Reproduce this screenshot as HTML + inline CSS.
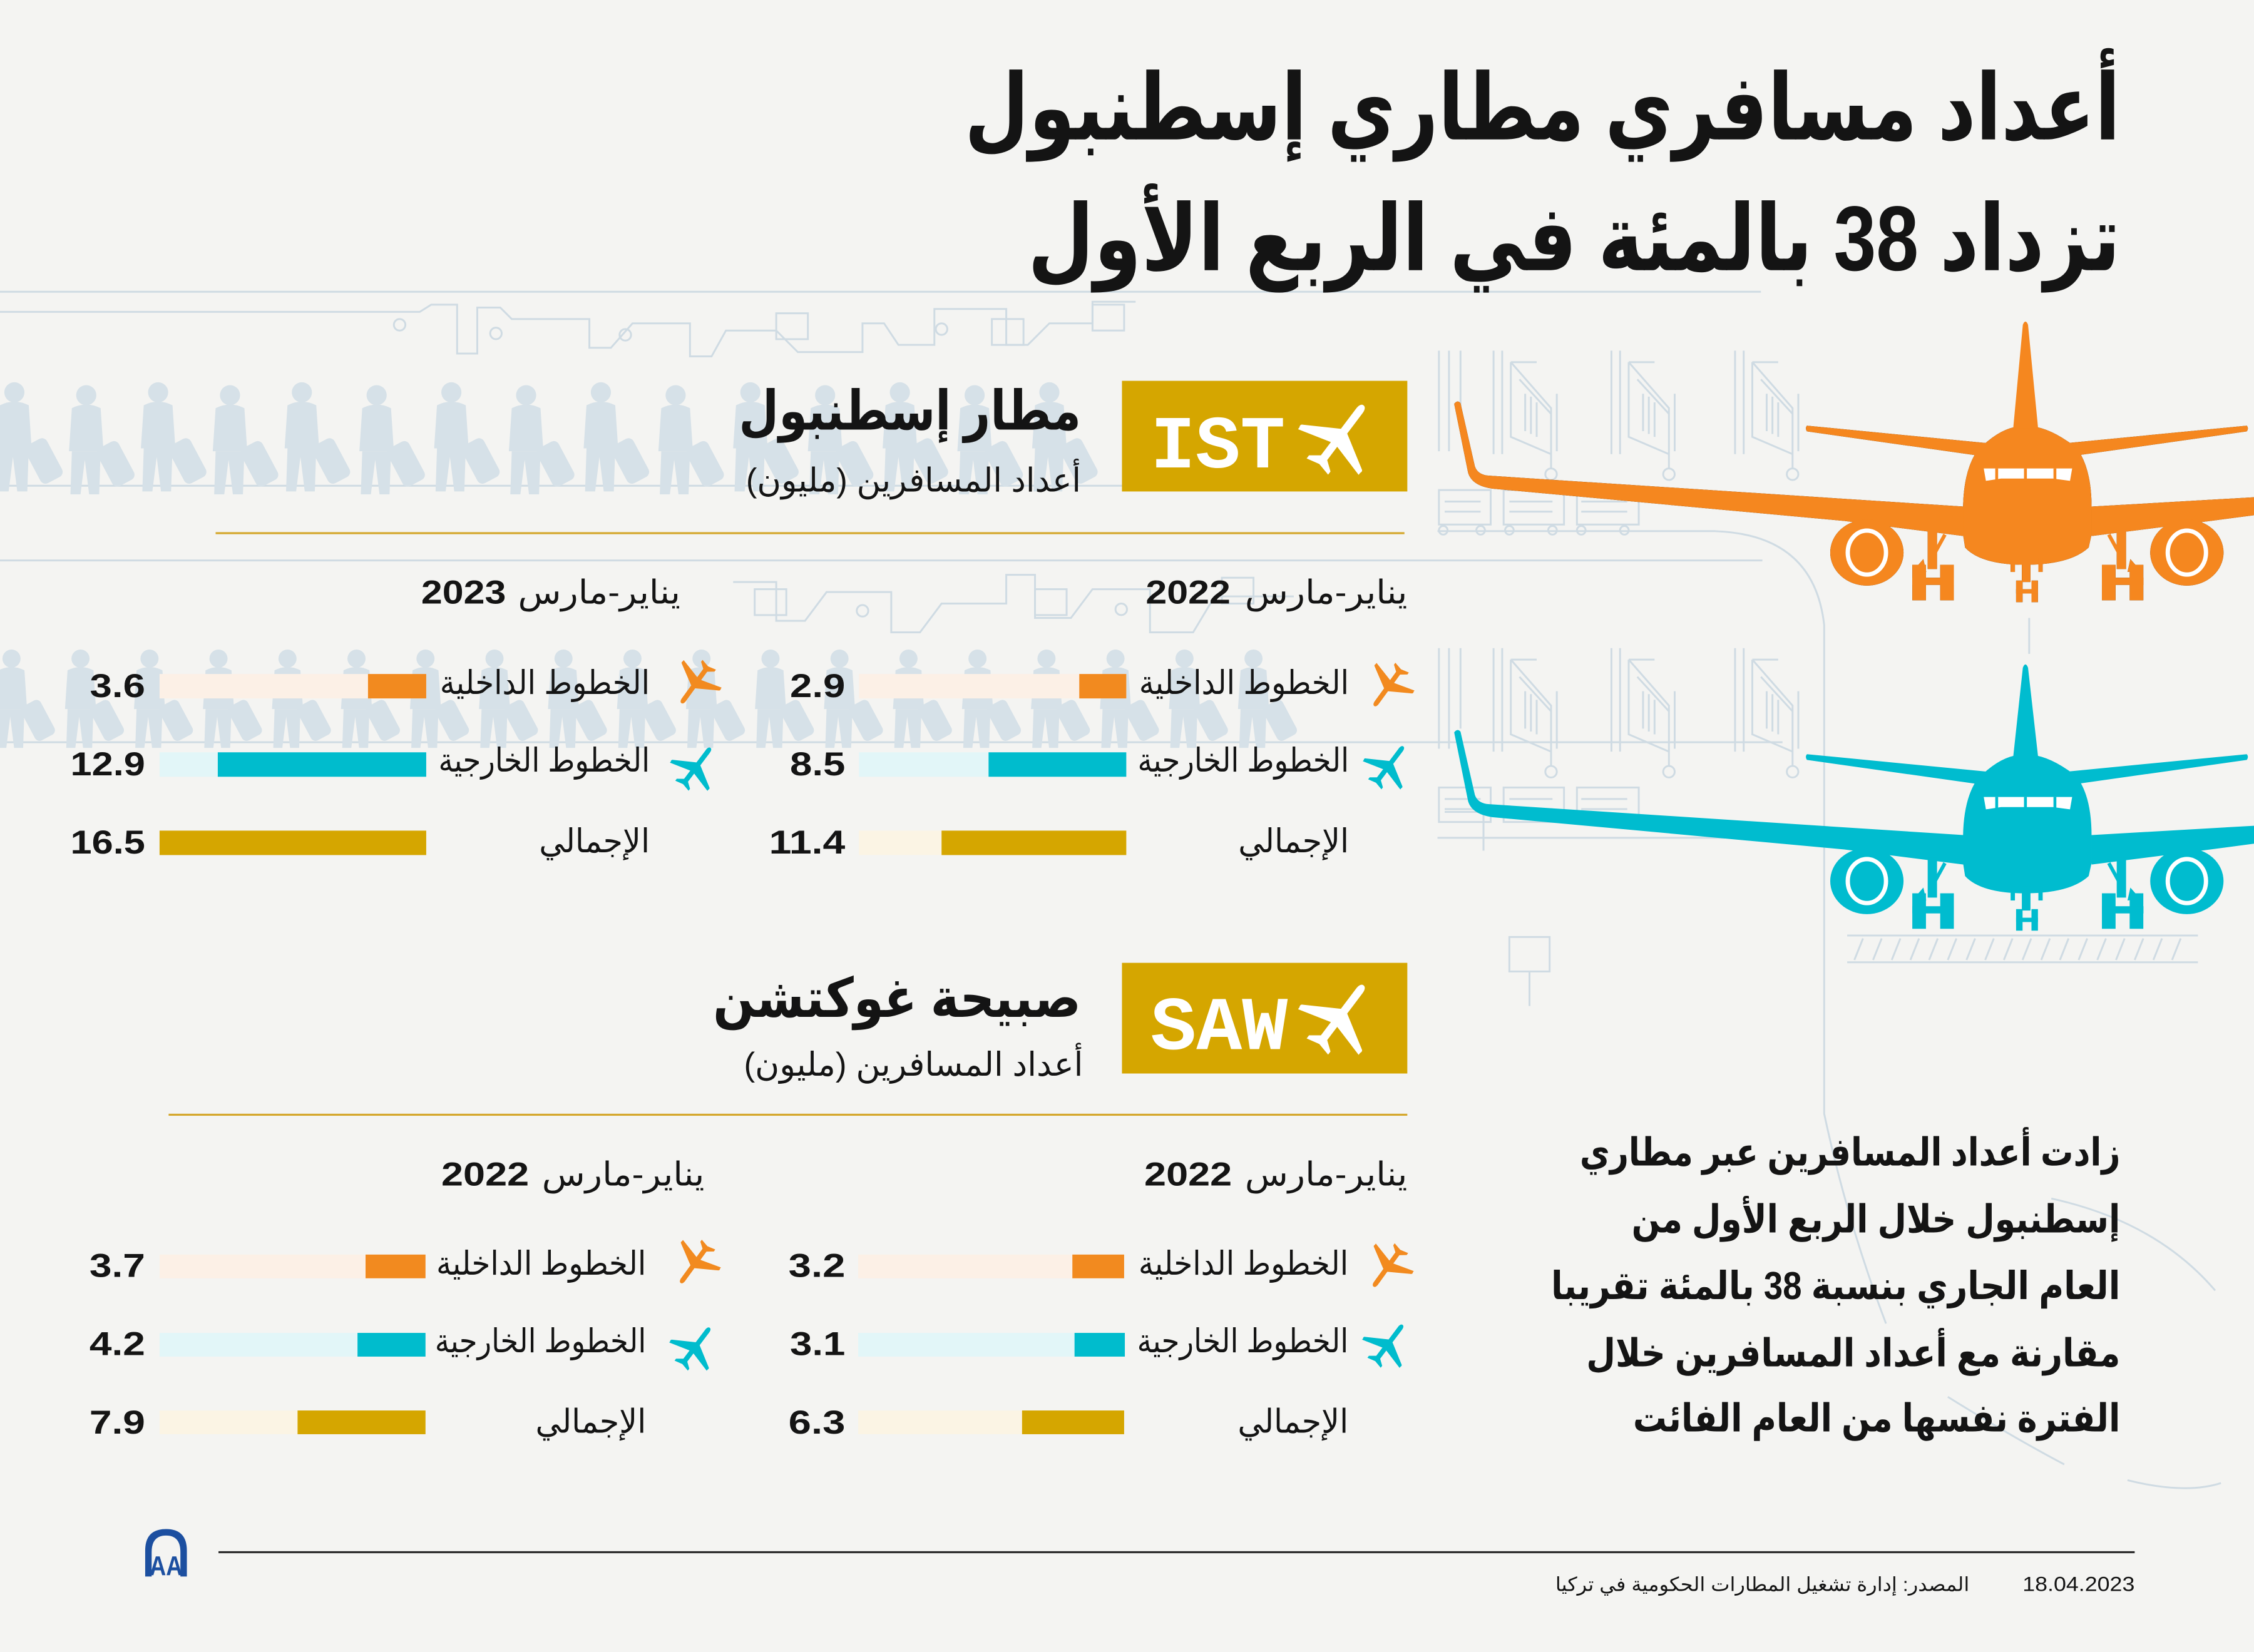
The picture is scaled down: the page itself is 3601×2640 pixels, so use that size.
<!DOCTYPE html>
<html><head><meta charset="utf-8">
<style>
html,body{margin:0;padding:0;background:#f4f4f2;}
svg{display:block;}
text{font-family:"Liberation Sans","DejaVu Sans",sans-serif;fill:#141414;}
.b{font-weight:700;}
.bg{fill:none;stroke:#cfdbe3;stroke-width:1.3;}
</style></head>
<body>
<svg xmlns="http://www.w3.org/2000/svg" width="3601" height="2640" viewBox="0 0 1568 1149.55" preserveAspectRatio="none">
<rect x="0" y="0" width="1568" height="1149.55" fill="#f4f4f2"/>
<defs>
 <g id="p">
  <circle cx="0" cy="7" r="7"/>
  <path d="M-10,16 Q0,11 10,16 L12,46 L-12,46 Z"/>
  <path d="M-10,46 L-11,76 L-4,76 L-1,52 L2,76 L9,76 L10,46 Z"/>
  <rect x="12" y="40" width="17" height="30" rx="4" transform="rotate(-28 20 55)"/>
 </g>
 <g id="jb">
  <path d="M0,0 V72 M6,0 V72 M12,8 H30 M12,8 V60 L40,72 V40 L12,8 M18,20 L40,44 M22,30 V56 M26,32 V58 M30,36 V60 M44,30 V70 M40,72 V82"/>
  <circle cx="40" cy="86" r="4"/>
 </g>
 <path id="pl" d="M0,-50 C3.5,-50 5,-46 5,-41 L5,-9 L47,16 C49,17 49,19 48,21 L48,24 L5,12 L5,33 L17,42 L17,47 L0,43 L-17,47 L-17,42 L-5,33 L-5,12 L-48,24 L-48,21 C-49,19 -49,17 -47,16 L-5,-9 L-5,-41 C-5,-46 -3.5,-50 0,-50 Z"/>
</defs>

<!-- background line art -->
<g class="bg">
 <path d="M0,203 H1225"/>
 <path d="M0,217 H292 L300,212 H318 V246 H332 V214 H348 L356,222 H410 V242 H425 L440,225 H480 V248 H495 L505,230 H540 L555,245 H600 V225 H615 L625,240 H650 V215 H700 V240 H715 L730,225 H760 V210 H790"/>
 <circle cx="278" cy="226" r="4"/><circle cx="345" cy="232" r="4"/><circle cx="435" cy="233" r="4"/><circle cx="655" cy="229" r="4"/>
 <rect x="540" y="218" width="22" height="18"/><rect x="690" y="222" width="22" height="18"/><rect x="760" y="212" width="22" height="18"/>
 <path d="M0,338 H790"/>
 <path d="M0,390 H1226"/>
 <path d="M1000,369.6 H1193 Q1262,372 1269,435 V775 Q1285,850 1312,921"/>
 <path d="M510,405 H540 V432 H560 L575,412 H620 V440 H640 L655,420 H700 V400 H720 V430 H745 L760,410 H800 V440 H830 L845,415 H900"/>
 <circle cx="600" cy="425" r="4"/><circle cx="780" cy="424" r="4"/>
 <rect x="525" y="410" width="22" height="18"/><rect x="720" y="410" width="22" height="18"/><rect x="850" y="402" width="22" height="18"/>
 <path d="M0,516.5 H1240"/>
 <path d="M1001,244 V314 M1008,244 V314 M1016,244 V300"/>
 <use href="#jb" x="1039" y="244"/><use href="#jb" x="1121" y="244"/><use href="#jb" x="1207" y="244"/>
 <rect x="1001" y="341" width="36" height="24"/><rect x="1046" y="341" width="42" height="24"/><rect x="1097" y="341" width="43" height="24"/>
 <path d="M1005,349 H1030 M1005,356 H1030 M1050,349 H1080 M1050,356 H1080 M1100,349 H1132 M1100,356 H1132"/>
 <circle cx="1004" cy="369" r="3"/><circle cx="1030" cy="369" r="3"/><circle cx="1050" cy="369" r="3"/><circle cx="1080" cy="369" r="3"/><circle cx="1100" cy="369" r="3"/><circle cx="1130" cy="369" r="3"/>
 <path d="M1001,451 V521 M1008,451 V521 M1016,451 V507"/>
 <use href="#jb" x="1039" y="451"/><use href="#jb" x="1121" y="451"/><use href="#jb" x="1207" y="451"/>
 <rect x="1001" y="548" width="36" height="24"/><rect x="1046" y="548" width="42" height="24"/><rect x="1097" y="548" width="43" height="24"/>
 <path d="M1005,556 H1030 M1005,563 H1030 M1050,556 H1080 M1050,563 H1080 M1100,556 H1132 M1100,563 H1132"/>
 <path d="M1000,583 H1200 M1005,565 H1032 V592 M1050,652 H1078 V676 H1050 Z M1064,676 V700"/>
 <path d="M1411.6,430 V455"/>
 <path d="M1285,651 H1529 M1285,669.6 H1529"/>
 <path d="M1290,668 L1296,653 M1303,668 L1309,653 M1316,668 L1322,653 M1329,668 L1335,653 M1342,668 L1348,653 M1355,668 L1361,653 M1368,668 L1374,653 M1381,668 L1387,653 M1394,668 L1400,653 M1407,668 L1413,653 M1420,668 L1426,653 M1433,668 L1439,653 M1446,668 L1452,653 M1459,668 L1465,653 M1472,668 L1478,653 M1485,668 L1491,653 M1498,668 L1504,653 M1511,668 L1517,653"/>
 <path d="M1427,834 Q1500,850 1541,898"/>
 <path d="M1355,972 Q1400,1000 1436,1019"/>
 <path d="M1480,1030 Q1520,1040 1545,1032"/>
</g>

<!-- people silhouettes -->
<g fill="#d6e1e8">
 <use href="#p" x="10" y="266"/><use href="#p" x="60" y="268"/><use href="#p" x="110" y="266"/><use href="#p" x="160" y="268"/>
 <use href="#p" x="210" y="266"/><use href="#p" x="262" y="268"/><use href="#p" x="314" y="266"/><use href="#p" x="366" y="268"/>
 <use href="#p" x="418" y="266"/><use href="#p" x="470" y="268"/><use href="#p" x="522" y="266"/><use href="#p" x="574" y="268"/>
 <use href="#p" x="626" y="266"/><use href="#p" x="678" y="268"/><use href="#p" x="730" y="266"/>
 <g transform="translate(8,452) scale(0.9)"><use href="#p"/></g>
 <g transform="translate(56,452) scale(0.9)"><use href="#p"/></g>
 <g transform="translate(104,452) scale(0.9)"><use href="#p"/></g>
 <g transform="translate(152,452) scale(0.9)"><use href="#p"/></g>
 <g transform="translate(200,452) scale(0.9)"><use href="#p"/></g>
 <g transform="translate(248,452) scale(0.9)"><use href="#p"/></g>
 <g transform="translate(296,452) scale(0.9)"><use href="#p"/></g>
 <g transform="translate(344,452) scale(0.9)"><use href="#p"/></g>
 <g transform="translate(392,452) scale(0.9)"><use href="#p"/></g>
 <g transform="translate(440,452) scale(0.9)"><use href="#p"/></g>
 <g transform="translate(488,452) scale(0.9)"><use href="#p"/></g>
 <g transform="translate(536,452) scale(0.9)"><use href="#p"/></g>
 <g transform="translate(584,452) scale(0.9)"><use href="#p"/></g>
 <g transform="translate(632,452) scale(0.9)"><use href="#p"/></g>
 <g transform="translate(680,452) scale(0.9)"><use href="#p"/></g>
 <g transform="translate(728,452) scale(0.9)"><use href="#p"/></g>
 <g transform="translate(776,452) scale(0.9)"><use href="#p"/></g>
 <g transform="translate(824,452) scale(0.9)"><use href="#p"/></g>
 <g transform="translate(872,452) scale(0.9)"><use href="#p"/></g>
</g>

<!-- big planes -->
<g id="pb">
 <path d="M1011.6,281 Q1013.8,278 1016,280.5 L1026,324.5 Q1028,330.5 1036,331 L1366,352.5 L1366,373 L1283,362.5 L1038,340 Q1024,338 1021.3,329 Z"/>
 <path d="M1455,352.5 L1568,346 L1568,358.5 L1536,362.7 L1455,373 Z"/>
 <path d="M1257,296.2 L1384,308.5 L1376,317 L1257,300.2 Q1255.5,298 1257,296.2 Z"/>
 <path d="M1563,296.2 L1436,308.5 L1444,317 L1563,300.2 Q1564.5,298 1563,296.2 Z"/>
 <path d="M1380.9,308.6 Q1395,296 1409,296.5 Q1423,296 1440.5,308.6 L1447.7,316.6 Q1455,330 1455,353 L1455,372 L1453,381 Q1440,393 1409,393 Q1378,393 1367,381 L1365.6,372 L1365.6,353 Q1366,330 1373.6,316.6 Z"/>
 <ellipse cx="1298.7" cy="384.5" rx="25.5" ry="23"/>
 <ellipse cx="1521.3" cy="384.5" rx="25.5" ry="23"/>
 <ellipse cx="1298.7" cy="384.5" rx="13.3" ry="15.3" fill="none" stroke="#fff" stroke-width="3"/>
 <ellipse cx="1521.3" cy="384.5" rx="13.3" ry="15.3" fill="none" stroke="#fff" stroke-width="3"/>
 <rect x="1341" y="368" width="6.5" height="28"/>
 <rect x="1330.3" y="393" width="9.5" height="24.7"/><rect x="1349.7" y="393" width="9.5" height="24.7"/><rect x="1330.3" y="402" width="28.9" height="5"/>
 <rect x="1472.5" y="368" width="6.5" height="28"/>
 <rect x="1462.2" y="393" width="9.5" height="24.7"/><rect x="1481.5" y="393" width="9.5" height="24.7"/><rect x="1462.2" y="402" width="28.9" height="5"/>
 <path d="M1353,372 L1342,392 M1467,372 L1478,392" stroke-width="2.5"/>
 <path d="M1331,397 L1338,389 L1340,398 Z M1489,397 L1482,389 L1480,398 Z"/>
 <rect x="1398.7" y="388" width="3" height="10"/><rect x="1418" y="388" width="3" height="10"/>
 <rect x="1406.5" y="388" width="6" height="17"/>
 <rect x="1402.5" y="404" width="4.5" height="15"/><rect x="1413.2" y="404" width="4.5" height="15"/><rect x="1402.5" y="410" width="15.2" height="3"/>
 <path d="M1380,326 H1441.5 L1440,334.6 L1428,333 H1392 L1381.5,334.6 Z" fill="#fff"/>
</g>
<g fill="#f5871f" stroke="#f5871f" stroke-width="0">
 <use href="#pb"/>
 <path d="M1407.2,226 Q1409,221.5 1410.8,226 L1417.8,298 L1400.5,298 Z"/>
 <path d="M1389,326 V335 M1409,326 V335 M1429.5,326 V335" stroke-width="2"/>
</g>
<g fill="#00bccf" stroke="#00bccf" stroke-width="0" transform="translate(0,228.6)">
 <use href="#pb"/>
 <path d="M1407.2,236 Q1409,231.5 1410.8,236 L1417.8,298 L1400.5,298 Z"/>
 <path d="M1389,326 V335 M1409,326 V335 M1429.5,326 V335" stroke-width="2"/>
</g>

<!-- title -->
<text x="1475" y="97" font-size="64" class="b" text-anchor="end" textLength="804" lengthAdjust="spacingAndGlyphs">&#x200F;أعداد مسافري مطاري إسطنبول&#x200F;</text>
<text x="1475" y="188" font-size="64" class="b" text-anchor="end" textLength="760" lengthAdjust="spacingAndGlyphs">&#x200F;تزداد 38 بالمئة في الربع الأول&#x200F;</text>

<!-- IST section -->
<rect x="780.5" y="265" width="198.5" height="77" fill="#d5a600"/>
<text x="800.4" y="325.2" font-size="52" class="b" style="font-family:'Liberation Mono',monospace;fill:#fff">IST</text>
<use href="#pl" fill="#fff" transform="translate(932,304) rotate(37) scale(0.55)"/>
<text x="752" y="299" font-size="38" class="b" text-anchor="end" textLength="238" lengthAdjust="spacingAndGlyphs">&#x200F;مطار إسطنبول&#x200F;</text>
<text x="752" y="342" font-size="23" text-anchor="end" textLength="233" lengthAdjust="spacingAndGlyphs">&#x200F;أعداد المسافرين (مليون)&#x200F;</text>
<rect x="150" y="370.3" width="827" height="1.4" fill="#d4a72c"/>

<text x="979" y="420" font-size="23" text-anchor="end" textLength="113" lengthAdjust="spacingAndGlyphs">&#x200F;يناير-مارس&#x200F;</text>
<text x="797" y="420" font-size="23" class="b" textLength="59" lengthAdjust="spacingAndGlyphs">2022</text>
<text x="473.3" y="420" font-size="23" text-anchor="end" textLength="113" lengthAdjust="spacingAndGlyphs">&#x200F;يناير-مارس&#x200F;</text>
<text x="293" y="420" font-size="23" class="b" textLength="59" lengthAdjust="spacingAndGlyphs">2023</text>

<!-- IST right column (2022) -->
<use href="#pl" fill="#f28a1f" transform="translate(966,477.5) rotate(216) scale(0.34)"/>
<use href="#pl" fill="#00bccd" transform="translate(966,533) rotate(37) scale(0.34)"/>
<text x="938.4" y="483" font-size="23" text-anchor="end" textLength="146" lengthAdjust="spacingAndGlyphs">&#x200F;الخطوط الداخلية&#x200F;</text>
<text x="938.4" y="537" font-size="23" text-anchor="end" textLength="147" lengthAdjust="spacingAndGlyphs">&#x200F;الخطوط الخارجية&#x200F;</text>
<text x="938.4" y="593" font-size="23" text-anchor="end" textLength="77" lengthAdjust="spacingAndGlyphs">&#x200F;الإجمالي&#x200F;</text>
<rect x="597.5" y="469" width="186" height="17" fill="#fcf0e6"/><rect x="750.8" y="469" width="32.7" height="17" fill="#f28a1f"/>
<rect x="597.5" y="523.5" width="186" height="17" fill="#e2f6f8"/><rect x="687.7" y="523.5" width="95.8" height="17" fill="#00bccd"/>
<rect x="597.5" y="578" width="186" height="17" fill="#fbf4e4"/><rect x="655" y="578" width="128.5" height="17" fill="#d5a600"/>
<text x="588" y="485" font-size="23" class="b" text-anchor="end" textLength="38.5" lengthAdjust="spacingAndGlyphs">2.9</text>
<text x="588" y="539.5" font-size="23" class="b" text-anchor="end" textLength="38.5" lengthAdjust="spacingAndGlyphs">8.5</text>
<text x="588" y="594" font-size="23" class="b" text-anchor="end" textLength="53" lengthAdjust="spacingAndGlyphs">11.4</text>

<!-- IST left column (2023) -->
<use href="#pl" fill="#f28a1f" transform="translate(484,475.5) rotate(216) scale(0.34)"/>
<use href="#pl" fill="#00bccd" transform="translate(484,534) rotate(37) scale(0.34)"/>
<text x="452" y="483" font-size="23" text-anchor="end" textLength="146" lengthAdjust="spacingAndGlyphs">&#x200F;الخطوط الداخلية&#x200F;</text>
<text x="452" y="537" font-size="23" text-anchor="end" textLength="147" lengthAdjust="spacingAndGlyphs">&#x200F;الخطوط الخارجية&#x200F;</text>
<text x="452" y="593" font-size="23" text-anchor="end" textLength="77" lengthAdjust="spacingAndGlyphs">&#x200F;الإجمالي&#x200F;</text>
<rect x="111" y="469" width="185.5" height="17" fill="#fcf0e6"/><rect x="256" y="469" width="40.5" height="17" fill="#f28a1f"/>
<rect x="111" y="523.5" width="185.5" height="17" fill="#e2f6f8"/><rect x="151.5" y="523.5" width="145" height="17" fill="#00bccd"/>
<rect x="111" y="578" width="185.5" height="17" fill="#d5a600"/>
<text x="101" y="485" font-size="23" class="b" text-anchor="end" textLength="38.5" lengthAdjust="spacingAndGlyphs">3.6</text>
<text x="101" y="539.5" font-size="23" class="b" text-anchor="end" textLength="52" lengthAdjust="spacingAndGlyphs">12.9</text>
<text x="101" y="594" font-size="23" class="b" text-anchor="end" textLength="52" lengthAdjust="spacingAndGlyphs">16.5</text>

<!-- SAW section -->
<rect x="780.5" y="670" width="198.5" height="77" fill="#d5a600"/>
<text x="800.4" y="730" font-size="53" class="b" style="font-family:'Liberation Mono',monospace;fill:#fff">SAW</text>
<use href="#pl" fill="#fff" transform="translate(932,707.6) rotate(37) scale(0.55)"/>
<text x="752" y="707.5" font-size="38" class="b" text-anchor="end" textLength="256" lengthAdjust="spacingAndGlyphs">&#x200F;صبيحة غوكتشن&#x200F;</text>
<text x="753.5" y="748.5" font-size="23" text-anchor="end" textLength="236" lengthAdjust="spacingAndGlyphs">&#x200F;أعداد المسافرين (مليون)&#x200F;</text>
<rect x="117.3" y="775" width="861.7" height="1.4" fill="#d4a72c"/>

<text x="979" y="825" font-size="23" text-anchor="end" textLength="113" lengthAdjust="spacingAndGlyphs">&#x200F;يناير-مارس&#x200F;</text>
<text x="796" y="825" font-size="23" class="b" textLength="61" lengthAdjust="spacingAndGlyphs">2022</text>
<text x="490" y="825" font-size="23" text-anchor="end" textLength="113" lengthAdjust="spacingAndGlyphs">&#x200F;يناير-مارس&#x200F;</text>
<text x="307" y="825" font-size="23" class="b" textLength="61" lengthAdjust="spacingAndGlyphs">2022</text>

<!-- SAW right column -->
<use href="#pl" fill="#f28a1f" transform="translate(965.5,881.5) rotate(216) scale(0.34)"/>
<use href="#pl" fill="#00bccd" transform="translate(965.5,935.5) rotate(37) scale(0.34)"/>
<text x="938" y="887" font-size="23" text-anchor="end" textLength="146" lengthAdjust="spacingAndGlyphs">&#x200F;الخطوط الداخلية&#x200F;</text>
<text x="938" y="941" font-size="23" text-anchor="end" textLength="147" lengthAdjust="spacingAndGlyphs">&#x200F;الخطوط الخارجية&#x200F;</text>
<text x="938" y="997" font-size="23" text-anchor="end" textLength="77" lengthAdjust="spacingAndGlyphs">&#x200F;الإجمالي&#x200F;</text>
<rect x="597" y="873" width="185" height="16.5" fill="#fcf0e6"/><rect x="746" y="873" width="36" height="16.5" fill="#f28a1f"/>
<rect x="597" y="927.5" width="185.5" height="16.5" fill="#e2f6f8"/><rect x="747.5" y="927.5" width="35" height="16.5" fill="#00bccd"/>
<rect x="597" y="981.5" width="185" height="16.5" fill="#fbf4e4"/><rect x="711" y="981.5" width="71" height="16.5" fill="#d5a600"/>
<text x="588" y="888.5" font-size="23" class="b" text-anchor="end" textLength="39.5" lengthAdjust="spacingAndGlyphs">3.2</text>
<text x="588" y="943" font-size="23" class="b" text-anchor="end" textLength="38.5" lengthAdjust="spacingAndGlyphs">3.1</text>
<text x="588" y="997.5" font-size="23" class="b" text-anchor="end" textLength="39.5" lengthAdjust="spacingAndGlyphs">6.3</text>

<!-- SAW left column -->
<use href="#pl" fill="#f28a1f" transform="translate(483.5,879) rotate(216) scale(0.34)"/>
<use href="#pl" fill="#00bccd" transform="translate(483.5,937.5) rotate(37) scale(0.34)"/>
<text x="449.5" y="887" font-size="23" text-anchor="end" textLength="146" lengthAdjust="spacingAndGlyphs">&#x200F;الخطوط الداخلية&#x200F;</text>
<text x="449.5" y="941" font-size="23" text-anchor="end" textLength="147" lengthAdjust="spacingAndGlyphs">&#x200F;الخطوط الخارجية&#x200F;</text>
<text x="449.5" y="997" font-size="23" text-anchor="end" textLength="77" lengthAdjust="spacingAndGlyphs">&#x200F;الإجمالي&#x200F;</text>
<rect x="111" y="873" width="185" height="16.5" fill="#fcf0e6"/><rect x="254.3" y="873" width="41.7" height="16.5" fill="#f28a1f"/>
<rect x="111" y="927.5" width="185" height="16.5" fill="#e2f6f8"/><rect x="248.7" y="927.5" width="47.3" height="16.5" fill="#00bccd"/>
<rect x="111" y="981.5" width="185" height="16.5" fill="#fbf4e4"/><rect x="207" y="981.5" width="89" height="16.5" fill="#d5a600"/>
<text x="101" y="888.5" font-size="23" class="b" text-anchor="end" textLength="38.8" lengthAdjust="spacingAndGlyphs">3.7</text>
<text x="101" y="943" font-size="23" class="b" text-anchor="end" textLength="38.8" lengthAdjust="spacingAndGlyphs">4.2</text>
<text x="101" y="997.5" font-size="23" class="b" text-anchor="end" textLength="38.8" lengthAdjust="spacingAndGlyphs">7.9</text>

<!-- paragraph -->
<text x="1475" y="811" font-size="27" class="b" text-anchor="end" textLength="376" lengthAdjust="spacingAndGlyphs">&#x200F;زادت أعداد المسافرين عبر مطاري&#x200F;</text>
<text x="1475" y="857.5" font-size="27" class="b" text-anchor="end" textLength="340" lengthAdjust="spacingAndGlyphs">&#x200F;إسطنبول خلال الربع الأول من&#x200F;</text>
<text x="1475" y="904" font-size="27" class="b" text-anchor="end" textLength="396" lengthAdjust="spacingAndGlyphs">&#x200F;العام الجاري بنسبة 38 بالمئة تقريبا&#x200F;</text>
<text x="1475" y="950.7" font-size="27" class="b" text-anchor="end" textLength="371.5" lengthAdjust="spacingAndGlyphs">&#x200F;مقارنة مع أعداد المسافرين خلال&#x200F;</text>
<text x="1475" y="996" font-size="27" class="b" text-anchor="end" textLength="339" lengthAdjust="spacingAndGlyphs">&#x200F;الفترة نفسها من العام الفائت&#x200F;</text>

<!-- footer -->
<rect x="152" y="1079.4" width="1333" height="1.4" fill="#2a2a2a"/>
<path d="M101,1097 V1079 Q101,1064 115.5,1064 Q130,1064 130,1079 V1097 H125.5 V1080 Q125.5,1068.5 115.5,1068.5 Q105.5,1068.5 105.5,1080 V1097 Z" fill="#1c4fa0"/>
<text x="104" y="1096" font-size="19" class="b" textLength="23" lengthAdjust="spacingAndGlyphs" style="fill:#1c4fa0">AA</text>
<text x="1370" y="1107" font-size="13.5" text-anchor="end" textLength="288" lengthAdjust="spacingAndGlyphs">&#x200F;المصدر: إدارة تشغيل المطارات الحكومية في تركيا&#x200F;</text>
<text x="1407" y="1107" font-size="14" textLength="78" lengthAdjust="spacingAndGlyphs">18.04.2023</text>
</svg>
</body></html>
